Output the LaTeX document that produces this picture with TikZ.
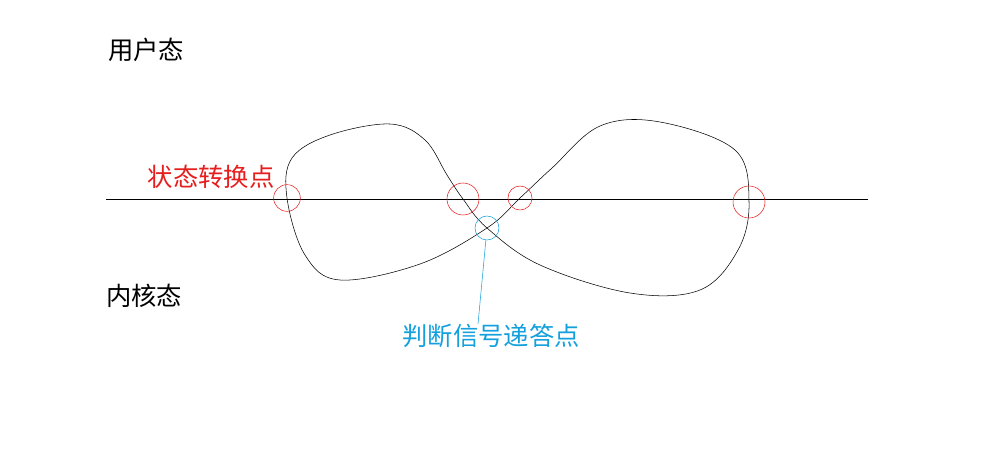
\documentclass[tikz,border=0pt]{standalone}
\usepackage{fontspec}
\newfontfamily\cjk{Noto Sans CJK SC}
\definecolor{lred}{RGB}{230,30,30}
\definecolor{lcyan}{RGB}{20,160,220}
\begin{document}
\begin{tikzpicture}[x=0.75pt,y=-0.75pt,
  lbl/.style={font=\cjk\fontsize{19}{22}\selectfont,inner sep=0pt},
  rc/.style={circle,draw=lred,inner sep=0pt,minimum size=#1},
  cc/.style={circle,draw=lcyan,inner sep=0pt,minimum size=#1}]
\useasboundingbox (0,0) rectangle (981,468);
\node[lbl] (u) at (146,50) {用户态};
\node[lbl] (k) at (144,296) {内核态};
\node[lbl,text=lred] (s) at (211,177) {状态转换点};
\node[lbl,text=lcyan] (j) at (491,336) {判断信号递答点};
\coordinate (l0) at (106,199);
\coordinate (l1) at (868,199);
\draw (l0) -- (l1);
\draw[thin] plot[smooth cycle,tension=0.6] coordinates {
 (287,198) (292,158) (330,135) (390,124) (425,140) (447,175) (463,199) (487,228)
 (540,265) (630,293) (700,290) (738,250) (749,202) (735,150) (660,122) (600,126)
 (552,168) (520,198) (487,228) (420,264) (340,280) (305,255)};
\node[rc=20] (c1) at (287,198) {};
\node[rc=24] (c2) at (463,199) {};
\node[rc=18] (c3) at (520,198) {};
\node[rc=24] (c4) at (749,202) {};
\node[cc=18] (c5) at (487,228) {};
\draw[lcyan] (c5) -- (j.north -| 478,0);
\end{tikzpicture}
\end{document}
